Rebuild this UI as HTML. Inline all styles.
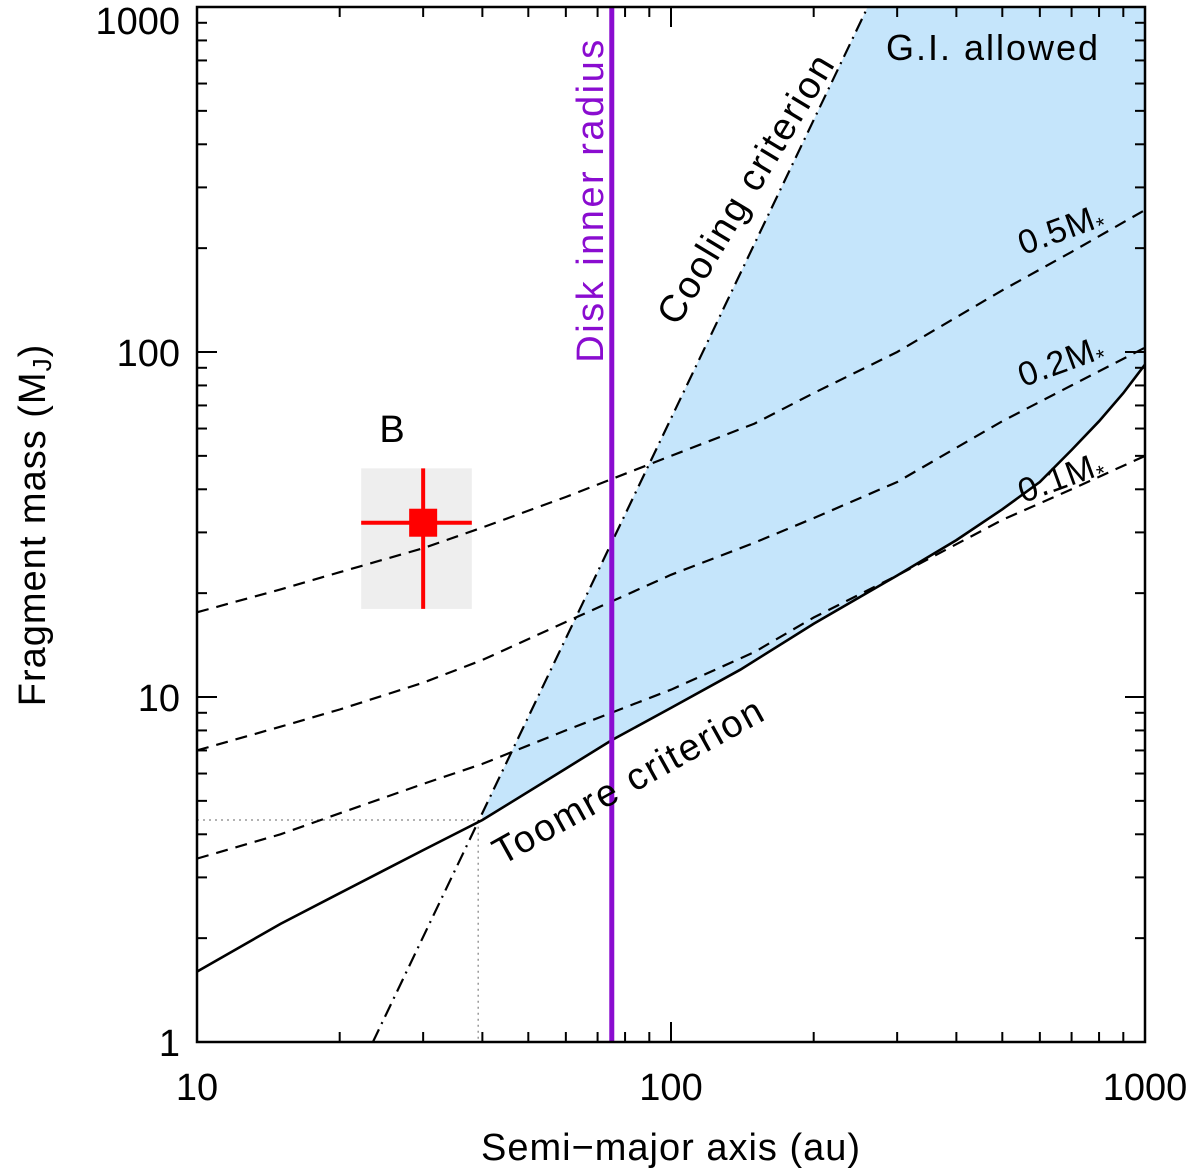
<!DOCTYPE html>
<html><head><meta charset="utf-8"><style>
body{margin:0;background:#fff}
svg{display:block;font-family:"Liberation Sans",sans-serif}
</style></head><body>
<svg id="c" width="1200" height="1175" viewBox="0 0 1200 1175"></svg>
<script>
const xTicks=[10,100,1000];
const yTicks=[1,10,100,1000];
const toomreA=[10,15,20,30,40,60,75,100,140,200,300,400,500,600,700,800,900,1000];
const toomreM=[1.6,2.2,2.7,3.6,4.4,6.2,7.5,9.3,12,16.3,22.5,28.5,35,42,52,63,76,92];
const coolA=[23.5,260];
const coolM=[1,1000];
const m05A=[10,15,20,30,40,60,100,150,200,300,500,700,1000];
const m05M=[17.6,20.5,23,27,31,38,50,62,76,100,151,195,258];
const m02A=[10,15,20,30,40,60,100,150,200,300,500,700,1000];
const m02M=[7,8.2,9.2,11,12.8,16.5,22.6,28,33,42,63,80,103];
const m01A=[10,15,20,30,40,60,100,150,200,300,500,700,1000];
const m01M=[3.4,4.0,4.6,5.6,6.4,8,10.5,13.5,17,22.5,32.6,40,50];
const diskR=[75];
const ptA=[30],ptM=[32],ptAlo=[22.2],ptAhi=[38],ptMlo=[18],ptMhi=[46];
const L=197,R=1145,T=7,B=1042;
const X=a=>L+(Math.log10(a)-1)/2*(R-L);
const Y=m=>B-Math.log10(m)/3*(B-T);
const NS='http://www.w3.org/2000/svg';
const svg=document.getElementById('c');
function el(t,at,p){const e=document.createElementNS(NS,t);for(const k in at)e.setAttribute(k,at[k]);(p||svg).appendChild(e);return e;}
function pts(A,M){return A.map((a,i)=>X(a).toFixed(1)+','+Y(M[i]).toFixed(1)).join(' ');}
const defs=el('defs',{});const cp=el('clipPath',{id:'pc'},defs);el('rect',{x:L,y:T,width:R-L,height:B-T},cp);
const slope=(Math.log10(coolM[1])-Math.log10(coolM[0]))/(Math.log10(coolA[1])-Math.log10(coolA[0]));
const coolAt=a=>Math.pow(10,Math.log10(coolM[0])+slope*(Math.log10(a)-Math.log10(coolA[0])));
let poly=[];
for(let i=0;i<toomreA.length;i++){if(toomreA[i]>=40)poly.push([X(toomreA[i]),Y(toomreM[i])]);}
poly.push([X(1000),Y(1000)]);poly.push([X(coolA[1]),Y(coolM[1])]);poly.push([X(40),Y(coolAt(40))]);
let region=el('polygon',{points:poly.map(p=>p.join(',')).join(' '),fill:'#c5e5fb','clip-path':'url(#pc)'});


el('polyline',{points:`${L},${Y(4.4)} ${X(39.2)},${Y(4.4)} ${X(39.2)},${B}`,fill:'none',stroke:'#999','stroke-width':1.5,'stroke-dasharray':'2,4',});
el('rect',{x:X(ptAlo[0]),y:Y(ptMhi[0]),width:X(ptAhi[0])-X(ptAlo[0]),height:Y(ptMlo[0])-Y(ptMhi[0]),fill:'#eeeeee',});
[[m05A,m05M,'curve-0.5msun'],[m02A,m02M,'curve-0.2msun'],[m01A,m01M,'curve-0.1msun']].forEach(c=>{
 const p=el('polyline',{points:pts(c[0],c[1]),fill:'none',stroke:'#000','stroke-width':2.2,'stroke-dasharray':'12,8','clip-path':'url(#pc)'});
 
 
});
const tl=el('polyline',{points:pts(toomreA,toomreM),fill:'none',stroke:'#000','stroke-width':2.6,'clip-path':'url(#pc)'});


const cl=el('polyline',{points:pts(coolA,coolM),fill:'none',stroke:'#000','stroke-width':2.2,'stroke-dasharray':'14,6,2,6','clip-path':'url(#pc)'});


const dl=el('line',{x1:X(diskR[0]),x2:X(diskR[0]),y1:T,y2:B,stroke:'#8a0cd0','stroke-width':5});


el('line',{x1:X(ptAlo[0]),x2:X(ptAhi[0]),y1:Y(ptM[0]),y2:Y(ptM[0]),stroke:'#f00','stroke-width':4,});
el('line',{x1:X(ptA[0]),x2:X(ptA[0]),y1:Y(ptMhi[0]),y2:Y(ptMlo[0]),stroke:'#f00','stroke-width':4,});
const pm=el('rect',{x:X(ptA[0])-14,y:Y(ptM[0])-14,width:28,height:28,fill:'#f00'});


el('rect',{x:L,y:T,width:R-L,height:B-T,fill:'none',stroke:'#000','stroke-width':2.5,});
for(let d=1;d<=1000;d*=10)for(let k=1;k<10;k++){const a=d*k;if(a<10||a>1000)continue;const x=X(a),len=k==1?20:10;
 el('line',{x1:x,x2:x,y1:B,y2:B-len,stroke:'#000','stroke-width':2});el('line',{x1:x,x2:x,y1:T,y2:T+len,stroke:'#000','stroke-width':2});}
for(let d=1;d<=1000;d*=10)for(let k=1;k<10;k++){const m=d*k;if(m>1000)continue;const y=Y(m),len=k==1?20:10;
 el('line',{x1:L,x2:L+len,y1:y,y2:y,stroke:'#000','stroke-width':2});el('line',{x1:R,x2:R-len,y1:y,y2:y,stroke:'#000','stroke-width':2});}
xTicks.forEach(v=>{const t=el('text',{x:X(v),y:1100,'font-size':38,'text-anchor':'middle'});t.textContent=v;
 
 });
yTicks.forEach(v=>{const t=el('text',{x:180,y:Math.max(Y(v)+14,34),'font-size':38,'text-anchor':'end'});t.textContent=v;
 
 });
function txt(s,x,y,rot,size,fill,name,ls){const t=el('text',{x:x,y:y,'font-size':size,fill:fill||'#000','text-anchor':'middle','letter-spacing':ls||0,transform:`rotate(${rot} ${x} ${y})`,});t.innerHTML=s;return t;}
txt('Semi−major axis (au)',671,1160,0,38,'#000','x-axis-title',1);
txt('Fragment mass (M<tspan font-size="26" dy="6">J</tspan><tspan dy="-6">)</tspan>',45,525,-90,38,'#000','y-axis-title',1);
txt('G.I. allowed',993,60,0,36,'#000','gi-allowed-label',2);
txt('Cooling criterion',757,195,-59,38,'#000','cooling-label',2);
txt('Toomre criterion',635,792,-29,38,'#000','toomre-label',2);
txt('Disk inner radius',603,200,-90,38,'#8a0cd0','disk-label',2.5);
txt('0.5M<tspan font-size="22" dy="6">*</tspan>',1065,240,-20,34,'#000','label-0.5msun',1);
txt('0.2M<tspan font-size="22" dy="6">*</tspan>',1065,372,-20,34,'#000','label-0.2msun',1);
txt('0.1M<tspan font-size="22" dy="6">*</tspan>',1065,488,-20,34,'#000','label-0.1msun',1);
txt('B',392,442,0,38,'#000','b-label');
</script>
</body></html>
